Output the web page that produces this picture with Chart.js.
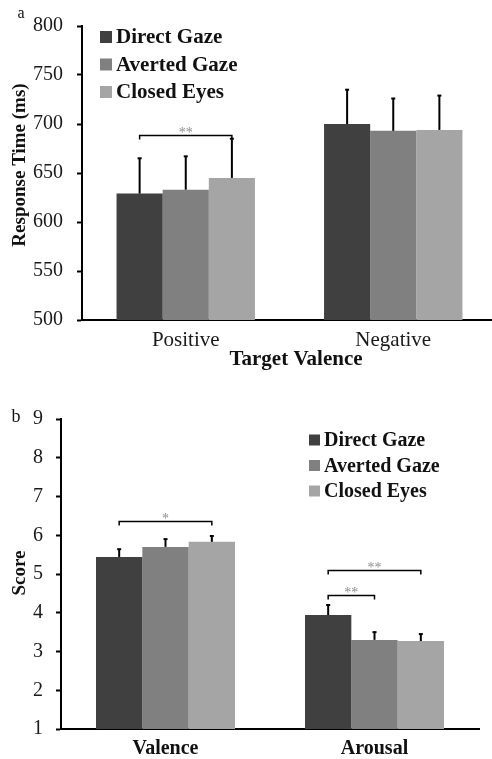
<!DOCTYPE html>
<html>
<head>
<meta charset="utf-8">
<script src="https://cdn.jsdelivr.net/npm/chart.js@4/dist/chart.umd.min.js"></script>
<style>
  html, body { margin: 0; padding: 0; background: #fff; overflow: hidden; width: 492px; height: 759px; }
  canvas { position: absolute; left: 0; display: block; }
  #chartA { top: 0; }
  #chartB { top: 380px; }
</style>
</head>
<body>
<canvas id="chartA" width="497" height="375"></canvas>
<canvas id="chartB" width="492" height="379"></canvas>
<script>
// Shared series
const seriesNames = ['Direct Gaze', 'Averted Gaze', 'Closed Eyes'];
const seriesColors = ['#404040', '#808080', '#a5a5a5'];

// Panel a: response time (ms) by target valence, with standard errors
const rtCategories = ['Positive', 'Negative'];
const rtDirect = [629, 700];
const rtAverted = [633, 693];
const rtClosed = [645, 694];
const rtDirectSE = [36, 35];
const rtAvertedSE = [34, 33];
const rtClosedSE = [40, 35];
const rtTicks = [500, 550, 600, 650, 700, 750, 800];

// Panel b: valence and arousal ratings, with standard errors
const scoreCategories = ['Valence', 'Arousal'];
const scoreDirect = [5.44, 3.94];
const scoreAverted = [5.70, 3.30];
const scoreClosed = [5.83, 3.27];
const scoreDirectSE = [0.20, 0.26];
const scoreAvertedSE = [0.20, 0.20];
const scoreClosedSE = [0.15, 0.18];
const scoreTicks = [1, 2, 3, 4, 5, 6, 7, 8, 9];

// Significance brackets: category, first and last series, height, marker
const rtBrackets = [
  { cat: 0, from: 0, to: 2, value: 689, label: '**' }
];
const scoreBrackets = [
  { cat: 0, from: 0, to: 2, value: 6.37, label: '*' },
  { cat: 1, from: 0, to: 2, value: 5.10, label: '**' },
  { cat: 1, from: 0, to: 1, value: 4.46, label: '**' }
];

const SERIF = '"Liberation Serif", "Times New Roman", serif';
Chart.defaults.font.family = SERIF;

// Error bars, significance brackets, legend, axis titles and panel letter
const decorations = {
  id: 'decorations',
  afterDatasetsDraw(chart, args, opts) {
    const ctx = chart.ctx;
    const yScale = chart.scales.y;
    ctx.save();
    ctx.strokeStyle = '#000';
    chart.data.datasets.forEach((ds, i) => {
      const meta = chart.getDatasetMeta(i);
      meta.data.forEach((bar, j) => {
        const top = yScale.getPixelForValue(ds.data[j] + ds.errors[j]);
        ctx.lineWidth = 2;
        ctx.beginPath();
        ctx.moveTo(bar.x, bar.y);
        ctx.lineTo(bar.x, top);
        ctx.stroke();
        ctx.beginPath();
        ctx.moveTo(bar.x - 2, top);
        ctx.lineTo(bar.x + 2, top);
        ctx.stroke();
      });
    });
    opts.brackets.forEach(b => {
      const x1 = chart.getDatasetMeta(b.from).data[b.cat].x;
      const x2 = chart.getDatasetMeta(b.to).data[b.cat].x;
      const y = Math.round(yScale.getPixelForValue(b.value)) + 0.5;
      ctx.lineWidth = 1.5;
      ctx.strokeStyle = '#000';
      ctx.beginPath();
      ctx.moveTo(x1, y + 4);
      ctx.lineTo(x1, y);
      ctx.lineTo(x2, y);
      ctx.lineTo(x2, y + 4);
      ctx.stroke();
      ctx.fillStyle = '#8c8c8c';
      ctx.font = '14px ' + SERIF;
      ctx.textAlign = 'center';
      ctx.textBaseline = 'alphabetic';
      ctx.fillText(b.label, (x1 + x2) / 2, y + 1);
    });
    ctx.restore();
  },
  afterDraw(chart, args, opts) {
    const ctx = chart.ctx;
    ctx.save();
    // legend
    const lg = opts.legend;
    chart.data.datasets.forEach((ds, i) => {
      const cy = lg.y + i * lg.step;
      ctx.fillStyle = ds.backgroundColor;
      ctx.fillRect(lg.x, cy - lg.box / 2, lg.box, lg.box);
      ctx.fillStyle = '#111';
      ctx.font = 'bold ' + lg.size + 'px ' + SERIF;
      ctx.textAlign = 'left';
      ctx.textBaseline = 'middle';
      ctx.fillText(ds.label, lg.x + lg.box + 4, cy + 1);
    });
    // panel letter
    ctx.fillStyle = '#111';
    ctx.font = opts.letter.size + 'px ' + SERIF;
    ctx.textAlign = 'center';
    ctx.textBaseline = 'middle';
    ctx.fillText(opts.letter.text, opts.letter.x, opts.letter.y);
    // y axis title
    const yt = opts.yTitle;
    ctx.save();
    ctx.translate(yt.x, yt.y);
    ctx.rotate(-Math.PI / 2);
    ctx.font = 'bold ' + yt.size + 'px ' + SERIF;
    ctx.textAlign = 'center';
    ctx.textBaseline = 'middle';
    ctx.fillText(yt.text, 0, 0);
    ctx.restore();
    // x axis title
    if (opts.xTitle) {
      const xt = opts.xTitle;
      ctx.font = 'bold ' + xt.size + 'px ' + SERIF;
      ctx.textAlign = 'center';
      ctx.textBaseline = 'alphabetic';
      ctx.fillText(xt.text, xt.x, xt.y);
    }
    ctx.restore();
  }
};

function makeDatasets(values, errors) {
  return seriesNames.map((name, i) => ({
    label: name,
    data: values[i],
    errors: errors[i],
    backgroundColor: seriesColors[i],
    borderWidth: 0
  }));
}

function yScale(min, max, tickValues, width, padding) {
  return {
    min: min,
    max: max,
    afterBuildTicks(scale) { scale.ticks = tickValues.map(v => ({ value: v })); },
    afterFit(scale) { scale.width = width; },
    grid: { drawOnChartArea: false, drawTicks: true, tickLength: 5, tickColor: '#000', tickWidth: 2 },
    border: { display: true, color: '#000', width: 2 },
    ticks: { font: { size: 20 }, color: '#1a1a1a', padding: padding }
  };
}

// Panel a
new Chart(document.getElementById('chartA'), {
  type: 'bar',
  data: {
    labels: rtCategories,
    datasets: makeDatasets([rtDirect, rtAverted, rtClosed], [rtDirectSE, rtAvertedSE, rtClosedSE])
  },
  options: {
    responsive: false,
    animation: false,
    layout: { padding: { top: 23, left: 0, right: 0, bottom: 0 } },
    datasets: { bar: { categoryPercentage: 0.667, barPercentage: 1.0 } },
    plugins: {
      legend: { display: false },
      tooltip: { enabled: false },
      decorations: {
        brackets: rtBrackets,
        legend: { x: 100, y: 37, step: 27.5, box: 12, size: 21 },
        letter: { text: 'a', x: 21, y: 14, size: 16 },
        yTitle: { text: 'Response Time (ms)', x: 20, y: 165, size: 19 },
        xTitle: { text: 'Target Valence', x: 296, y: 365, size: 21 }
      }
    },
    scales: {
      x: {
        afterFit(scale) { scale.height = 55; },
        grid: { display: false, drawTicks: false },
        border: { display: true, color: '#000', width: 2 },
        ticks: { font: { size: 21 }, color: '#1a1a1a', padding: 8 }
      },
      y: yScale(500, 800, rtTicks, 82, 14)
    }
  },
  plugins: [decorations]
});

// Panel b
new Chart(document.getElementById('chartB'), {
  type: 'bar',
  data: {
    labels: scoreCategories,
    datasets: makeDatasets([scoreDirect, scoreAverted, scoreClosed], [scoreDirectSE, scoreAvertedSE, scoreClosedSE])
  },
  options: {
    responsive: false,
    animation: false,
    layout: { padding: { top: 39, left: 0, right: 13, bottom: 0 } },
    datasets: { bar: { categoryPercentage: 0.665, barPercentage: 1.0 } },
    plugins: {
      legend: { display: false },
      tooltip: { enabled: false },
      decorations: {
        brackets: scoreBrackets,
        legend: { x: 309, y: 60, step: 25.5, box: 11, size: 20 },
        letter: { text: 'b', x: 16, y: 37, size: 18 },
        yTitle: { text: 'Score', x: 20, y: 193, size: 19 }
      }
    },
    scales: {
      x: {
        afterFit(scale) { scale.height = 30; },
        grid: { display: false, drawTicks: false },
        border: { display: true, color: '#000', width: 2 },
        ticks: { font: { size: 20, weight: 'bold' }, color: '#111', padding: 8 }
      },
      y: yScale(1, 9, scoreTicks, 61, 13)
    }
  },
  plugins: [decorations]
});
</script>
</body>
</html>
